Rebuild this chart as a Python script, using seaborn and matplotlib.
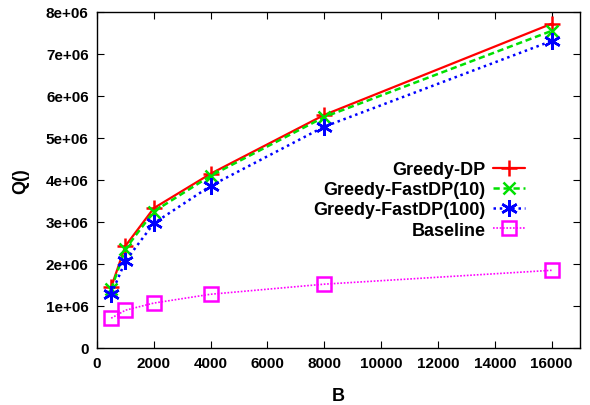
import matplotlib
matplotlib.use("Agg")
import matplotlib.pyplot as plt
import seaborn as sns
import pandas as pd

B = [500, 1000, 2000, 4000, 8000, 16000]
greedy_dp = [1.45e6, 2.43e6, 3.33e6, 4.15e6, 5.55e6, 7.72e6]
greedy_fastdp10 = [1.40e6, 2.36e6, 3.25e6, 4.10e6, 5.50e6, 7.55e6]
greedy_fastdp100 = [1.28e6, 2.07e6, 2.97e6, 3.86e6, 5.27e6, 7.31e6]
baseline = [0.71e6, 0.90e6, 1.07e6, 1.28e6, 1.52e6, 1.85e6]

xticks = [0, 2000, 4000, 6000, 8000, 10000, 12000, 14000, 16000]
yticks = [0, 1e6, 2e6, 3e6, 4e6, 5e6, 6e6, 7e6, 8e6]
ytick_labels = ["0", "1e+06", "2e+06", "3e+06", "4e+06", "5e+06", "6e+06", "7e+06", "8e+06"]

sns.set_style("white")
plt.rcParams['font.family'] = ['Liberation Sans', 'DejaVu Sans']
plt.rcParams['font.weight'] = 'bold'
plt.rcParams['text.color'] = 'black'
plt.rcParams['axes.labelcolor'] = 'black'
plt.rcParams['xtick.color'] = 'black'
plt.rcParams['ytick.color'] = 'black'

fig = plt.figure(figsize=(5.9, 4.06), dpi=100)
ax = fig.add_axes([97/590, 1 - 349/406, (580-97)/590, (349-13)/406])

series = [
    ("Greedy-DP", greedy_dp, dict(color="#ff0000", linestyle="-", lw=1.6, marker="+", ms=12, mew=1.8, mec="#ff0000")),
    ("Greedy-FastDP(10)", greedy_fastdp10, dict(color="#00e000", linestyle=(0, (2.5, 1.5)), lw=1.8, marker="x", ms=9, mew=1.8, mec="#00e000")),
    ("Greedy-FastDP(100)", greedy_fastdp100, dict(color="#0000ff", linestyle=(0, (1, 1.5)), lw=1.8, marker=(6, 2, 0), ms=12, mew=1.8, mec="#0000ff")),
    ("Baseline", baseline, dict(color="#ff00ff", linestyle=(0, (1, 1)), lw=1.2, marker="s", ms=10, mew=1.8, mfc="none", mec="#ff00ff")),
]

for name, vals, st in series:
    df = pd.DataFrame({"B": B, "Q": vals})
    sns.lineplot(data=df, x="B", y="Q", ax=ax, label=name, **st)

ax.set_xlim(0, 17000)
ax.set_ylim(0, 8e6)
ax.set_xticks(xticks)
ax.set_xticklabels([str(x) for x in xticks], fontsize=11, fontweight='bold', color='black')
ax.set_yticks(yticks)
ax.set_yticklabels(ytick_labels, fontsize=11, fontweight='bold', color='black')
ax.tick_params(direction='in', bottom=True, left=True, top=True, right=True,
               length=5, width=0.8, pad=6, color="black")
ax.set_xlabel("B", fontsize=13, fontweight='bold', labelpad=12, color='black')
ax.set_ylabel("Q()", fontsize=13, fontweight='bold', labelpad=12, color='black')
for s in ax.spines.values():
    s.set_linewidth(1.0)
    s.set_color("black")

leg = ax.legend(loc="upper right", bbox_to_anchor=((525-97)/483, (349-162)/336), markerfirst=False,
                frameon=False, fontsize=13, handlelength=1.8, labelspacing=0.18,
                handletextpad=0.4, borderaxespad=0, borderpad=0)
for t in leg.get_texts():
    t.set_fontweight('bold')
    t.set_color('black')

fig.savefig("out.png", dpi=100)
